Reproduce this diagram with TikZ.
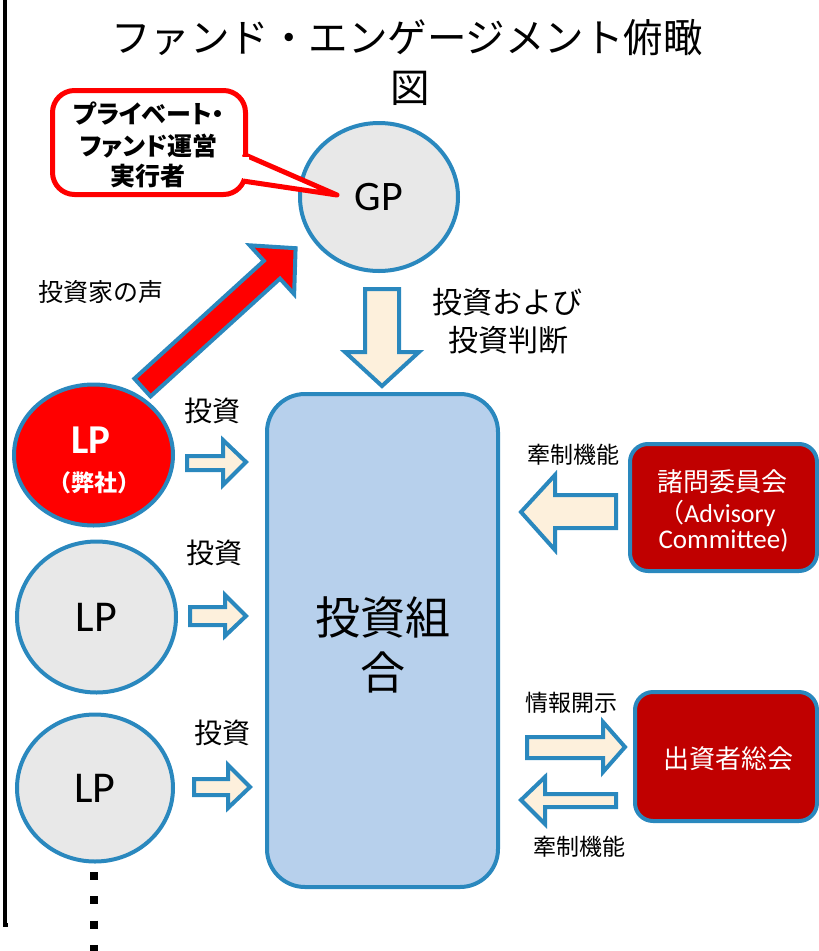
\documentclass[tikz,border=0pt]{standalone}
\usepackage{fontspec}
\setmainfont{Noto Sans CJK JP}
\newfontfamily\carlito{Carlito}
\usetikzlibrary{shapes.geometric}
\definecolor{bblue}{HTML}{2A88BE}
\definecolor{cream}{HTML}{FDF0DC}
\definecolor{boxblue}{HTML}{B7D0EC}
\definecolor{lgray}{HTML}{E8E8E8}
\definecolor{dred}{HTML}{C00000}
\newcommand{\fs}[1]{\fontsize{#1}{#1}\selectfont}
\begin{document}
\begin{tikzpicture}[x=1pt,y=-1pt,
  txt/.style={inner sep=0pt, anchor=center},
  circ/.style={ellipse, draw=bblue, line width=4pt, inner sep=0pt},
  barrow/.style={draw=bblue, line width=4pt, fill=cream, line join=miter},
  redbox/.style={rectangle, rounded corners=18pt, draw=bblue, line width=4pt, fill=dred, inner sep=0pt},
  callout/.style={draw=red, line width=5pt, fill=white}]
\useasboundingbox (0,0) rectangle (819,951);
% left frame line
\draw[line width=4pt] (5.3,-5) -- (5.3,924.5) -- (8,924.5);
% title
\node[txt] (title1) at (407,38) {\fs{39.5}ファンド・エンゲージメント俯瞰};
\node[txt] (title2) at (410,88) {\fs{39.5}図};
% GP
\node[circ, fill=lgray, minimum width=158pt, minimum height=148pt] (gp) at (379,197) {\carlito\fs{42}GP};
% callout
\draw[callout, rounded corners=22pt] (52.5,90.5) rectangle (245.5,194.5);
\coordinate (tailtip) at (337,195);
\draw[callout, line join=round] (243,154) -- (tailtip) -- (243,181);
\fill[white] (242,156.6) rectangle (249,178.4);
\node[txt] (c1) at (149,114) {\bfseries\addfontfeatures{RawFeature=+palt}\fs{25}プライベート・};
\node[txt] (c2) at (148.5,146) {\bfseries\addfontfeatures{RawFeature=+palt}\fs{25}ファンド運営};
\node[txt] (c3) at (148,176.5) {\bfseries\addfontfeatures{RawFeature=+palt}\fs{25}実行者};
% fund box
\node[rectangle, rounded corners=38pt, draw=bblue, line width=4pt, fill=boxblue, minimum width=231pt, minimum height=493pt] (fund) at (382.5,640.5) {};
\node[txt, align=center, font=\fontsize{45}{55}\selectfont] (fundt) at (383,644.5) {投資組\\合};
% down arrow GP -> fund
\draw[barrow] (365,289) -- (399,289) -- (399,352) -- (419,352) -- (382,386) -- (345,352) -- (365,352) -- cycle;
\node[txt] (gpl1) at (507.5,302) {\fs{30}投資および};
\node[txt] (gpl2) at (508.5,340) {\fs{30}投資判断};
% LPs
\node[circ, fill=red, minimum width=159pt, minimum height=141pt] (lp1) at (93.5,455) {};
\node[txt, text=white] (lp1a) at (91,440) {\carlito\bfseries\fs{41}LP};
\node[txt, text=white] (lp1b) at (94,483) {\bfseries\fs{23}（弊社）};
\node[circ, fill=lgray, minimum width=159pt, minimum height=151pt] (lp2) at (96.5,617) {\carlito\fs{44}LP};
\node[circ, fill=lgray, minimum width=156pt, minimum height=147pt] (lp3) at (95,788) {\carlito\fs{44}LP};
% red arrow LP -> GP
\begin{scope}[shift={(142.5,387.5)}, rotate=42.3]
\draw[draw=bblue, line width=4pt, fill=red, line join=miter] (0,-12) -- (175,-12) -- (175,-33) -- (207,0) -- (175,33) -- (175,12) -- (0,12) -- cycle;
\end{scope}
\node[txt] (voice) at (101,292) {\fs{25}投資家の声};
% small invest arrows
\draw[barrow] (187,456) -- (223,456) -- (223,440) -- (246,462) -- (223,485) -- (223,470) -- (187,470) -- cycle;
\draw[barrow] (190,607) -- (225,607) -- (225,595) -- (246,616) -- (225,636) -- (225,625) -- (190,625) -- cycle;
\draw[barrow] (194,779) -- (228,779) -- (228,765) -- (250,787) -- (228,808) -- (228,795) -- (194,795) -- cycle;
\node[txt] (inv1) at (212,411) {\fs{28}投資};
\node[txt] (inv2) at (214.5,553) {\fs{28}投資};
\node[txt] (inv3) at (222,733) {\fs{28}投資};
% advisory committee
\node[redbox, minimum width=187pt, minimum height=127pt] (adv) at (723.5,507.5) {};
\node[txt, text=white] (adv1) at (722.5,482) {\fs{26}諸問委員会};
\node[txt, text=white] (adv2) at (717,513) {\fs{26}（\carlito Advisory};
\node[txt, text=white] (adv3) at (723.5,540) {\carlito\fs{27}Committee)};
\draw[barrow] (616,495) -- (555,495) -- (555,475) -- (521,512) -- (555,550) -- (555,528) -- (616,528) -- cycle;
\node[txt] (ctl1) at (573.5,455) {\fs{23}牽制機能};
% general meeting
\node[redbox, minimum width=182pt, minimum height=129pt] (gm) at (726,756.5) {};
\node[txt, text=white] (gmt) at (728,759) {\fs{26}出資者総会};
\draw[barrow] (527,737) -- (603,737) -- (603,722) -- (625,747) -- (603,772) -- (603,758) -- (527,758) -- cycle;
\draw[barrow] (616,794) -- (545,794) -- (545,777) -- (521,800) -- (545,824) -- (545,807) -- (616,807) -- cycle;
\node[txt] (disc) at (571.5,703) {\fs{23}情報開示};
\node[txt] (ctl2) at (579,847) {\fs{23}牽制機能};
% continuation dots
\coordinate (dotsA) at (93.8,872);
\coordinate (dotsB) at (93.8,960);
\draw[line width=8pt, dash pattern=on 8pt off 16.3pt] (dotsA) -- (dotsB);
\end{tikzpicture}
\end{document}
